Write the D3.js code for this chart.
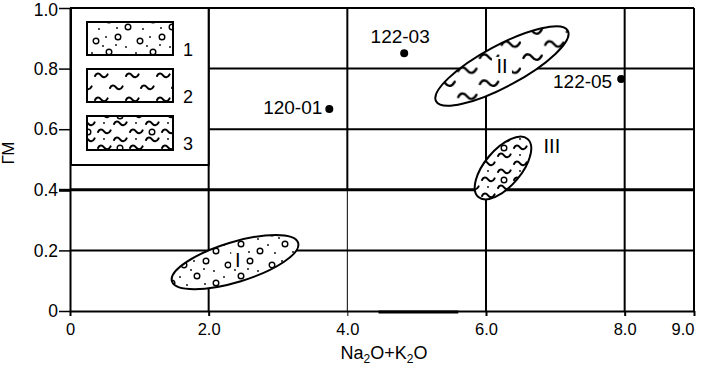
<!DOCTYPE html>
<html>
<head>
<meta charset="utf-8">
<script src="https://cdn.jsdelivr.net/npm/d3@7"></script>
<style>
  body { margin: 0; background: #fff; }
  svg { display: block; font-family: "Liberation Sans", Arial, sans-serif; }
</style>
</head>
<body>
<div id="container"></div>
<script>
const width = 701;
const height = 367;
const margin = { t: 8, r: 7, b: 56, l: 70 };

// axis ticks
const xTicks = [0, 2, 4, 6, 8, 9];
const yTicks = [0, 0.2, 0.4, 0.6, 0.8, 1.0];

// sample points
const sampleNames = ["122-03", "120-01", "122-05"];
const sampleX = [4.82, 3.74, 7.95];
const sampleY = [0.851, 0.667, 0.766];

// fields (ellipses): ends of the long axis + half width, in data units
const fieldNames = ["I", "II", "III"];
const fieldStart = [[1.47, 0.098], [5.28, 0.692], [5.89, 0.376]];
const fieldEnd = [[3.29, 0.225], [7.18, 0.925], [6.60, 0.568]];
const fieldHalfWidth = [0.066, 0.068, 0.060];
const fieldLabelX = [2.42, 6.23, 6.95];
const fieldLabelY = [0.17, 0.809, 0.545];

const legendLabels = ["1", "2", "3"];

const x = d3.scaleLinear().domain([0, 9]).range([margin.l, width - margin.r]);
const y = d3.scaleLinear().domain([0, 1]).range([height - margin.b, margin.t]);

const svg = d3.select("#container")
  .append("svg")
  .attr("width", width)
  .attr("height", height)
  .attr("viewBox", `0 0 ${width} ${height}`);

svg.append("rect").attr("width", width).attr("height", height).attr("fill", "#fff");

// ---- patterns
const defs = svg.append("defs");
const tilde = "M0,3 c1.5,-3.2 4,-3.2 6,-0.6 s4.6,2.6 6.6,-1";

function addTilde(g, tx, ty, sw) {
  g.append("path")
    .attr("d", tilde)
    .attr("transform", `translate(${tx},${ty})`)
    .attr("fill", "none")
    .attr("stroke", "#000")
    .attr("stroke-width", sw || 2)
    .attr("stroke-linecap", "round");
}
function addRing(g, cx, cy) {
  g.append("circle").attr("cx", cx).attr("cy", cy).attr("r", 2.8)
    .attr("fill", "#fff").attr("stroke", "#000").attr("stroke-width", 1.4);
}
function addDot(g, cx, cy) {
  g.append("circle").attr("cx", cx).attr("cy", cy).attr("r", 0.9).attr("fill", "#000");
}

function makePattern(id, w, h, scale) {
  const p = defs.append("pattern")
    .attr("id", id)
    .attr("patternUnits", "userSpaceOnUse")
    .attr("width", w)
    .attr("height", h);
  if (scale) p.attr("patternTransform", `scale(${scale})`);
  p.append("rect").attr("width", w).attr("height", h).attr("fill", "#fff");
  return p;
}

const p1 = makePattern("p1", 44, 32);
[[8, 9], [30, 5], [21, 20], [40, 27]].forEach(d => addRing(p1, d[0], d[1]));
[[18, 5], [38, 15], [4, 21], [28, 13], [11, 29], [29, 28], [15, 14]].forEach(d => addDot(p1, d[0], d[1]));

const p2 = makePattern("p2", 31, 24);
addTilde(p2, 2, 1);
addTilde(p2, 17, 13);

const p2big = makePattern("p2big", 30, 18, 1.45);
addTilde(p2big, 1, 1, 1.6);
addTilde(p2big, 16, 10, 1.6);

const p3 = makePattern("p3", 64, 32);
[[2, 1], [34, 1], [18, 9], [50, 9], [2, 17], [34, 17], [18, 25], [50, 25]].forEach(d => addTilde(p3, d[0], d[1]));
addRing(p3, 24, 4);
addRing(p3, 56, 20);
[[8, 11], [40, 11], [8, 27], [40, 27]].forEach(d => addDot(p3, d[0], d[1]));

// ---- grid
const grid = svg.append("g").attr("stroke", "#000");

grid.selectAll("line.h")
  .data(yTicks.filter(d => d > 0))
  .join("line")
  .attr("x1", x(0))
  .attr("x2", x(9))
  .attr("y1", d => y(d))
  .attr("y2", d => y(d))
  .attr("stroke-width", d => (d === 0.4 ? 3 : 2));

grid.selectAll("line.v")
  .data(xTicks.filter(d => d > 0))
  .join("line")
  .attr("x1", d => x(d))
  .attr("x2", d => x(d))
  .attr("y1", y(1))
  .attr("y2", d => (d === 4 ? y(0.4) : y(0)))
  .attr("stroke-width", 2);

// thinner lower part of the 4.0 line
grid.append("line")
  .attr("x1", x(4)).attr("x2", x(4))
  .attr("y1", y(0.4)).attr("y2", y(0))
  .attr("stroke-width", 1);

// ---- axes
const yAxis = svg.append("g")
  .attr("transform", `translate(${x(0)},0)`)
  .call(d3.axisLeft(y)
    .tickValues(yTicks)
    .tickSize(11)
    .tickSizeOuter(0)
    .tickPadding(1)
    .tickFormat(d => (d === 0 ? "0" : d.toFixed(1))));

yAxis.select(".domain").attr("stroke-width", 2);
yAxis.selectAll(".tick line").attr("stroke-width", d => (d === 0.4 ? 3 : 1.5));
yAxis.selectAll(".tick text")
  .attr("font-size", 17.5)
  .attr("font-family", "Liberation Sans, Arial, sans-serif")
  .attr("fill", "#000")
  .attr("dy", d => (d === 1 ? "0.42em" : "0.32em"));

const xAxis = svg.append("g")
  .attr("transform", `translate(0,${y(0)})`)
  .call(d3.axisBottom(x)
    .tickValues(xTicks)
    .tickSize(5)
    .tickSizeOuter(0)
    .tickPadding(7)
    .tickFormat(d => (d === 0 ? "0" : d.toFixed(1))));

xAxis.select(".domain").attr("stroke-width", 2);
xAxis.selectAll(".tick line").attr("stroke-width", d => (d === 4 ? 1 : 2));
xAxis.selectAll(".tick text")
  .attr("font-size", 16.5)
  .attr("font-family", "Liberation Sans, Arial, sans-serif")
  .attr("fill", "#000")
  .attr("text-anchor", d => (d === 9 ? "end" : "middle"));

// heavy stroke on the base line
const baseSmudge = [4.45, 5.6];
svg.append("line")
  .attr("x1", x(baseSmudge[0])).attr("x2", x(baseSmudge[1]))
  .attr("y1", y(0) + 1).attr("y2", y(0) + 1)
  .attr("stroke", "#000").attr("stroke-width", 3);

// ---- legend box
const legend = svg.append("g");
legend.append("rect")
  .attr("x", x(0) + 1)
  .attr("y", y(1))
  .attr("width", x(2) - x(0) - 1)
  .attr("height", 157)
  .attr("fill", "#fff")
  .attr("stroke", "#000")
  .attr("stroke-width", 2);

const legendFills = ["p1", "p2", "p3"];
legendLabels.forEach((lab, i) => {
  const top = 22 + i * 47;
  legend.append("rect")
    .attr("x", 87).attr("y", top)
    .attr("width", 86).attr("height", i === 2 ? 34 : 33)
    .attr("fill", `url(#${legendFills[i]})`)
    .attr("stroke", "#000")
    .attr("stroke-width", 2);
  legend.append("text")
    .attr("x", 188).attr("y", top + 34)
    .attr("text-anchor", "middle")
    .attr("font-size", 18)
    .text(lab);
});

// ---- fields
const fieldFills = ["p1", "p2big", "p3"];
fieldNames.forEach((name, i) => {
  const x1 = x(fieldStart[i][0]), y1 = y(fieldStart[i][1]);
  const x2 = x(fieldEnd[i][0]), y2 = y(fieldEnd[i][1]);
  const a = Math.hypot(x2 - x1, y2 - y1) / 2;
  const b = y(0) - y(fieldHalfWidth[i]);
  const ang = Math.atan2(y2 - y1, x2 - x1) * 180 / Math.PI;
  svg.append("path")
    .attr("d", `M${x1},${y1} A${a},${b} ${ang} 0 1 ${x2},${y2} A${a},${b} ${ang} 0 1 ${x1},${y1} Z`)
    .attr("fill", `url(#${fieldFills[i]})`)
    .attr("stroke", "#000")
    .attr("stroke-width", 2);
});

const fieldLabels = svg.selectAll("g.field")
  .data(fieldNames)
  .join("g")
  .attr("class", "field")
  .attr("transform", (d, i) => `translate(${x(fieldLabelX[i])},${y(fieldLabelY[i])})`);

// clear a little space in the pattern around the label
fieldLabels.append("rect")
  .attr("x", d => -d.length * 3.5 - 3)
  .attr("y", -9)
  .attr("width", d => d.length * 7 + 6)
  .attr("height", 18)
  .attr("fill", "#fff");

fieldLabels.append("text")
  .attr("dy", "0.36em")
  .attr("text-anchor", "middle")
  .attr("font-size", 20)
  .text(d => d);

// ---- samples
const labelPlace = [
  { anchor: "middle", dx: -4, dy: -10 },
  { anchor: "end", dx: -7, dy: 5 },
  { anchor: "end", dx: -9, dy: 9 }
];

svg.selectAll("circle.sample")
  .data(sampleNames)
  .join("circle")
  .attr("class", "sample")
  .attr("cx", (d, i) => x(sampleX[i]))
  .attr("cy", (d, i) => y(sampleY[i]))
  .attr("r", 4)
  .attr("fill", "#000");

svg.selectAll("text.sample")
  .data(sampleNames)
  .join("text")
  .attr("class", "sample")
  .attr("x", (d, i) => x(sampleX[i]) + labelPlace[i].dx)
  .attr("y", (d, i) => y(sampleY[i]) + labelPlace[i].dy)
  .attr("text-anchor", (d, i) => labelPlace[i].anchor)
  .attr("font-size", 19)
  .text(d => d);

// ---- axis titles
const xl = svg.append("text")
  .attr("x", 384)
  .attr("y", 359)
  .attr("text-anchor", "middle")
  .attr("font-size", 18);
xl.append("tspan").text("Na");
xl.append("tspan").attr("font-size", 12).attr("dy", 4).text("2");
xl.append("tspan").attr("dy", -4).text("O+K");
xl.append("tspan").attr("font-size", 12).attr("dy", 4).text("2");
xl.append("tspan").attr("dy", -4).text("O");

svg.append("text")
  .attr("transform", `translate(14,153) rotate(-90)`)
  .attr("text-anchor", "middle")
  .attr("font-size", 17)
  .text("ГМ");
</script>
</body>
</html>
